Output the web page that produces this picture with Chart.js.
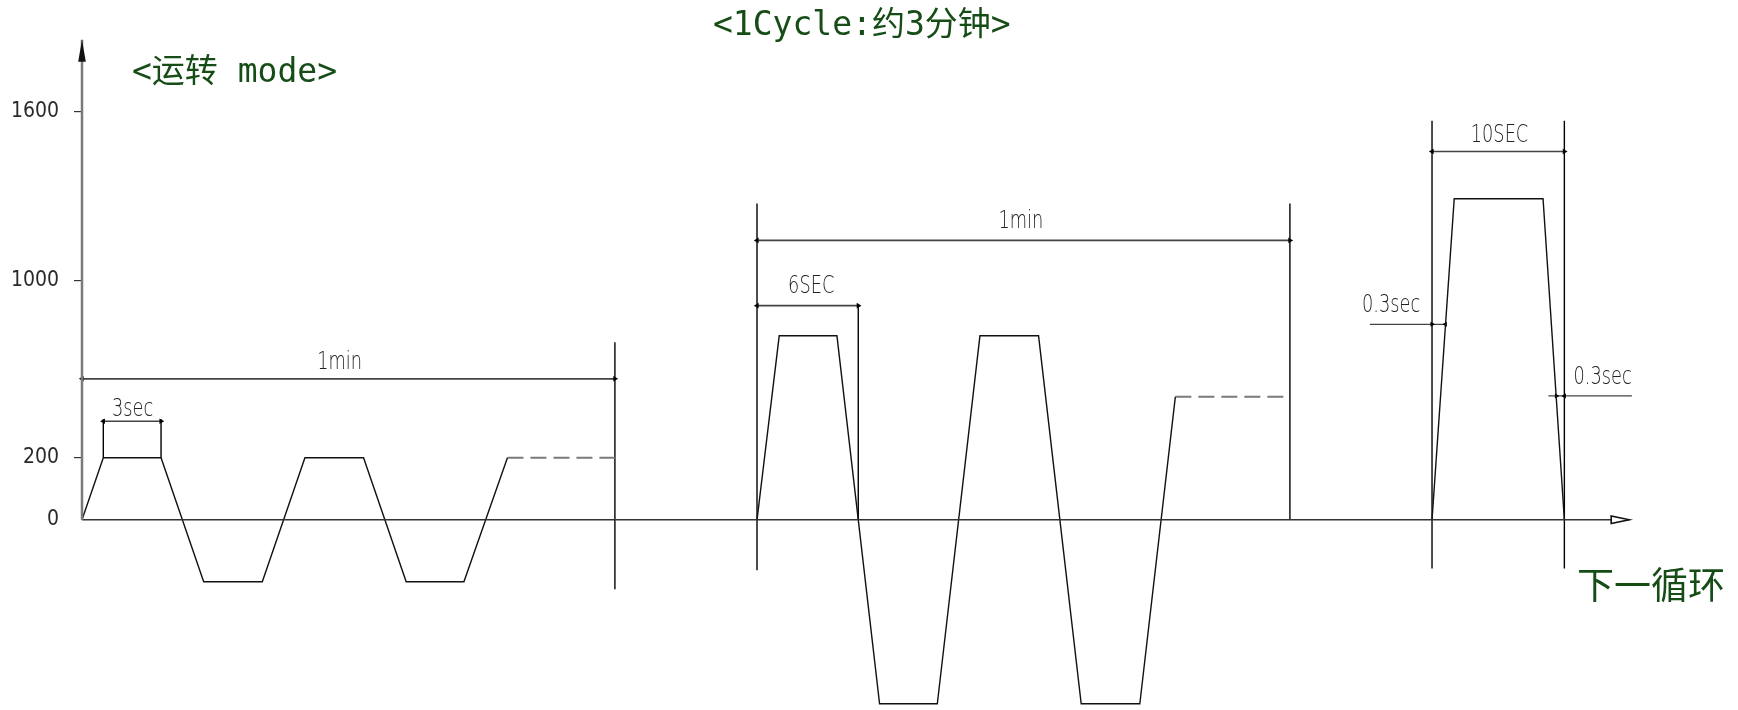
<!DOCTYPE html>
<html lang="zh">
  <head>
    <meta charset="UTF-8" />
    <title>运转 mode</title>
    <script src="https://cdn.jsdelivr.net/npm/chart.js"></script>
    <style>
      html, body { margin: 0; padding: 0; background: #fff; }
      #wrap { width: 1738px; height: 710px; position: relative; }
    </style>
  </head>
  <body>
    <div id="wrap"><canvas id="chart"></canvas></div>
    <script>
      // y 轴刻度 (rpm)
      const yTicks = [0, 200, 1000, 1600];

      // 波形: x 为图上时间 (第一段 1min = 60), y 为转速
      const wave1X = [0, 2.4, 8.9, 13.7, 20.3, 25.1, 31.7, 36.5, 43.0, 47.9];
      const wave1Y = [0, 200, 200, -200, -200, 200, 200, -200, -200, 200];
      const hold1X = [47.9, 60];
      const hold1Y = [200, 200];
      const wave2X = [76.0, 78.5, 85.0, 89.8, 96.3, 101.1, 107.7, 112.5, 119.1, 123.1];
      const wave2Y = [0, 750, 750, -750, -750, 750, 750, -750, -750, 475];
      const hold2X = [123.1, 136.0];
      const hold2Y = [475, 475];
      const wave3X = [152.0, 154.5, 164.5, 166.9];
      const wave3Y = [0, 1290, 1290, 0];

      // 尺寸界线
      const extX = [2.4, 8.9, 60, 76, 87.4, 136, 152, 166.9];
      const extFrom = [200, 200, -234, -163, 0, 0, -157, -157];
      const extTo = [374, 374, 721, 1273, 886, 1273, 1567, 1567];

      // 尺寸线
      const dimLabels = ["3sec", "1min", "6SEC", "1min", "10SEC"];
      const dimStart = [2.4, 0, 76, 76, 152];
      const dimEnd = [8.9, 60, 87.4, 136, 166.9];
      const dimLevel = [365, 556, 886, 1142, 1458];
      const dimTextX = [5.7, 29.0, 82.1, 105.7, 159.6];
      const dimTextY = [418, 628, 971, 1209, 1515];

      // 0.3sec 引线
      const leadLabels = ["0.3sec", "0.3sec"];
      const leadX = [[145.0, 152.0, 153.5], [165.1, 166.0, 166.9, 174.5]];
      const leadLevel = [802, 479];
      const leadTextX = [147.4, 171.2];
      const leadTextY = [886, 562];

      // 坐标轴端点
      const xAxisEnd = 174.2;
      const yAxisEnd = 1855;

      // y 轴按图纸分段 (非线性)
      const knotVal = [-1600, -1000, -200, 0, 200, 1000, 1600];
      const knotUnit = [-413, -242.2, -62.7, 0, 62.7, 242.2, 413];

      function interp(v, from, to) {
        let i = 0;
        if (v <= from[0]) i = 0;
        else if (v >= from[from.length - 1]) i = from.length - 2;
        else while (v > from[i + 1]) i++;
        const t = (v - from[i]) / (from[i + 1] - from[i]);
        return to[i] + t * (to[i + 1] - to[i]);
      }

      class WarpScale extends Chart.LinearScale {
        static id = "warp";
        static defaults = {};
        getPixelForValue(value) {
          if (value === null) return NaN;
          const a = interp(this.min, knotVal, knotUnit);
          const b = interp(this.max, knotVal, knotUnit);
          return this.getPixelForDecimal((interp(value, knotVal, knotUnit) - a) / (b - a));
        }
        getValueForPixel(pixel) {
          const a = interp(this.min, knotVal, knotUnit);
          const b = interp(this.max, knotVal, knotUnit);
          return interp(a + this.getDecimalForPixel(pixel) * (b - a), knotUnit, knotVal);
        }
      }
      Chart.register(WarpScale);

      const pts = (xs, ys) => xs.map((x, i) => ({ x: x, y: Array.isArray(ys) ? ys[i] : ys }));

      function line(data, color, width, extra) {
        return Object.assign({
          data: data, showLine: true, borderColor: color, borderWidth: width,
          pointRadius: 0, fill: false, clip: false
        }, extra || {});
      }

      const datasets = [];
      // 坐标轴
      datasets.push(line(pts([0, 0], [0, yAxisEnd]), "#7a7a7a", 2.5));
      datasets.push(line(pts([0, xAxisEnd], [0, 0]), "#333", 1.5));
      // 波形
      datasets.push(line(pts(wave1X, wave1Y), "#111", 1.4));
      datasets.push(line(pts(wave2X, wave2Y), "#111", 1.4));
      datasets.push(line(pts(wave3X, wave3Y), "#111", 1.4));
      datasets.push(line(pts(hold1X, hold1Y), "#7a7a7a", 2, { borderDash: [16, 7] }));
      datasets.push(line(pts(hold2X, hold2Y), "#7a7a7a", 2, { borderDash: [16, 7] }));
      // 尺寸界线
      extX.forEach((x, i) => {
        datasets.push(line(pts([x, x], [extFrom[i], extTo[i]]), "#000", 1.4));
      });
      // 尺寸线
      dimLabels.forEach((t, i) => {
        datasets.push(line(pts([dimStart[i], dimEnd[i]], dimLevel[i]), "#444", 1.6, {
          pointRadius: 3.2, pointStyle: "triangle", pointRotation: [-90, 90],
          pointBackgroundColor: "#000", pointBorderWidth: 0
        }));
      });
      leadX.forEach((xs, i) => {
        const r = xs.map((x, k) => (k === 0 || k === 3 ? 0 : 3));
        const rot = xs.map((x, k) => (k === 1 ? 90 : -90));
        datasets.push(line(pts(xs, leadLevel[i]), "#444", 1.3, {
          pointRadius: r, pointStyle: "triangle", pointRotation: rot,
          pointBackgroundColor: "#000", pointBorderWidth: 0
        }));
      });

      const drawingPlugin = {
        id: "drawingText",
        afterDatasetsDraw(chart) {
          const { ctx } = chart;
          const x = chart.scales.x;
          const y = chart.scales.y;
          ctx.save();

          // y 轴箭头 (实心)
          const ax = x.getPixelForValue(0);
          const ay = y.getPixelForValue(yAxisEnd);
          ctx.fillStyle = "#111";
          ctx.beginPath();
          ctx.moveTo(ax, ay);
          ctx.lineTo(ax - 3.8, ay + 22);
          ctx.lineTo(ax + 3.8, ay + 22);
          ctx.closePath();
          ctx.fill();

          // x 轴箭头 (空心)
          const bx = x.getPixelForValue(xAxisEnd);
          const by = y.getPixelForValue(0);
          ctx.fillStyle = "#fff";
          ctx.strokeStyle = "#111";
          ctx.lineWidth = 1.6;
          ctx.beginPath();
          ctx.moveTo(bx, by);
          ctx.lineTo(bx - 18, by - 3.8);
          ctx.lineTo(bx - 18, by + 3.8);
          ctx.closePath();
          ctx.fill();
          ctx.stroke();

          // 尺寸文字 (细长体)
          const thin = (txt, px, py) => {
            ctx.save();
            ctx.translate(px, py);
            ctx.scale(0.74, 1);
            ctx.fillText(txt, 0, 0);
            ctx.restore();
          };
          ctx.font = '200 24px "DejaVu Sans"';
          ctx.fillStyle = "#222";
          ctx.textAlign = "center";
          ctx.textBaseline = "middle";
          dimLabels.forEach((t, i) => thin(t, x.getPixelForValue(dimTextX[i]), y.getPixelForValue(dimTextY[i])));
          leadLabels.forEach((t, i) => thin(t, x.getPixelForValue(leadTextX[i]), y.getPixelForValue(leadTextY[i])));

          // 标题文字
          ctx.fillStyle = "#164d16";
          ctx.textAlign = "left";
          ctx.font = '33px "DejaVu Sans Mono", "Noto Sans CJK SC"';
          ctx.fillText("<1Cycle:约3分钟>", 713, 26);
          ctx.fillText("<运转 mode>", 132, 73);
          ctx.font = '37px "Noto Sans CJK SC"';
          ctx.fillText("下一循环", 1577, 585);
          ctx.restore();
        }
      };

      new Chart(document.getElementById("chart"), {
        type: "scatter",
        data: { datasets: datasets },
        options: {
          responsive: true,
          maintainAspectRatio: false,
          animation: false,
          layout: { padding: 0 },
          plugins: { legend: { display: false }, tooltip: { enabled: false } },
          scales: {
            x: { type: "linear", min: 0, max: 186, display: false },
            y: {
              type: "warp",
              position: "left",
              min: -760,
              max: 1982,
              bounds: "data",
              border: { display: false },
              grid: {
                drawOnChartArea: false,
                tickLength: 8,
                lineWidth: 1.2,
                color: (c) => (c.tick && c.tick.value === 0 ? "rgba(0,0,0,0)" : "#333"),
              },
              ticks: {
                padding: 15,
                color: "#2a2a2a",
                font: { family: '"Liberation Sans Narrow", "DejaVu Sans Condensed", sans-serif', size: 21 },
                callback: (v) => String(v),
              },
              afterBuildTicks: (s) => {
                s.ticks = yTicks.map((v) => ({ value: v }));
              },
              afterFit: (s) => {
                s.width = 82;
                s.paddingTop = 0;
                s.paddingBottom = 0;
              },
            },
          },
        },
        plugins: [drawingPlugin],
      });
    </script>
  </body>
</html>
